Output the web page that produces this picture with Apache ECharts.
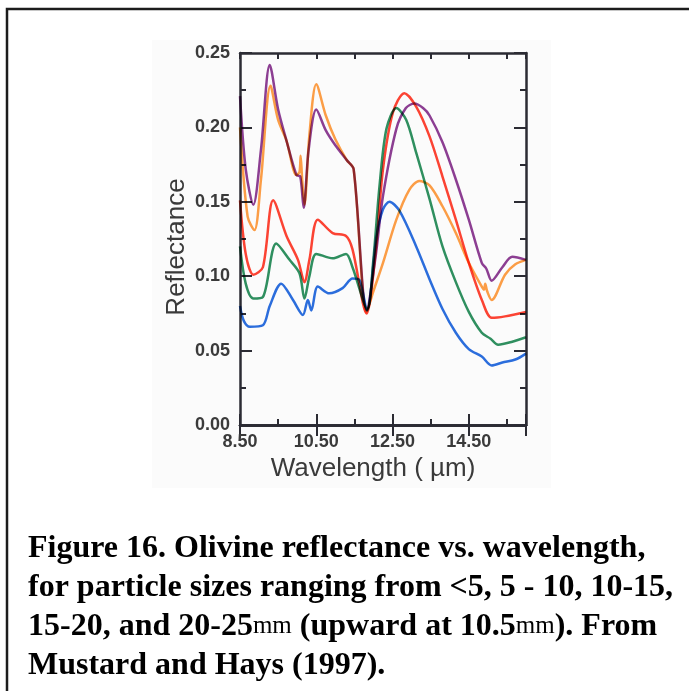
<!DOCTYPE html>
<html>
<head>
<meta charset="utf-8">
<title>Olivine reflectance</title>
<script src="https://cdn.jsdelivr.net/npm/echarts@6/dist/echarts.min.js"></script>
<style>
	html, body { margin: 0; padding: 0; background: #fff; }
	#chart { width: 689px; height: 691px; }
</style>
</head>
<body>
<div id="chart"></div>
<script>
	// 数据 (wavelength in um, reflectance)
	var blueWl = [8.5, 8.6, 8.76, 9.1, 9.28, 9.58, 9.89, 10.15, 10.28, 10.37, 10.54, 10.84, 11.19, 11.45, 11.63, 11.83, 12.08, 12.25, 12.42, 12.68, 13.12, 13.47, 13.81, 14.16, 14.5, 14.84, 15.1, 15.38, 15.72, 16.0];
	var blueR = [0.080, 0.070, 0.066, 0.067, 0.080, 0.095, 0.084, 0.074, 0.084, 0.077, 0.093, 0.0885, 0.092, 0.0985, 0.0975, 0.077, 0.127, 0.145, 0.150, 0.144, 0.120, 0.098, 0.078, 0.062, 0.051, 0.046, 0.040, 0.042, 0.044, 0.048];

	var greenWl = [8.5, 8.65, 8.85, 9.1, 9.45, 9.8, 10.06, 10.19, 10.32, 10.5, 10.93, 11.28, 11.45, 11.84, 11.99, 12.16, 12.34, 12.6, 12.86, 13.12, 13.47, 13.81, 14.16, 14.5, 14.84, 15.07, 15.27, 15.64, 16.0];
	var greenR = [0.120, 0.095, 0.085, 0.086, 0.122, 0.111, 0.102, 0.085, 0.100, 0.115, 0.112, 0.115, 0.106, 0.078, 0.109, 0.161, 0.199, 0.213, 0.205, 0.183, 0.152, 0.120, 0.096, 0.076, 0.062, 0.058, 0.054, 0.056, 0.059];

	var redWl = [8.5, 8.65, 8.85, 9.1, 9.37, 9.72, 10.02, 10.19, 10.32, 10.54, 10.93, 11.28, 11.45, 11.82, 12.05, 12.25, 12.51, 12.81, 13.12, 13.47, 13.81, 14.16, 14.5, 14.85, 15.1, 15.45, 16.0];
	var redR = [0.151, 0.115, 0.101, 0.106, 0.151, 0.127, 0.111, 0.096, 0.111, 0.138, 0.129, 0.127, 0.118, 0.075, 0.115, 0.172, 0.210, 0.223, 0.214, 0.194, 0.167, 0.138, 0.109, 0.0835, 0.072, 0.073, 0.076];

	var orangeWl = [8.5, 8.7, 8.88, 9.05, 9.3, 9.5, 9.72, 9.98, 10.06, 10.09, 10.13, 10.19, 10.32, 10.5, 10.75, 11.0, 11.3, 11.48, 11.82, 12.0, 12.25, 12.6, 12.94, 13.2, 13.47, 13.81, 14.16, 14.5, 14.84, 14.9, 14.93, 14.98, 15.1, 15.45, 15.72, 16.0];
	var orangeR = [0.200, 0.140, 0.131, 0.165, 0.228, 0.205, 0.191, 0.168, 0.170, 0.181, 0.165, 0.148, 0.195, 0.229, 0.208, 0.192, 0.178, 0.172, 0.076, 0.090, 0.109, 0.138, 0.158, 0.164, 0.161, 0.147, 0.129, 0.109, 0.093, 0.091, 0.095, 0.090, 0.084, 0.101, 0.108, 0.111];

	var purpleWl = [8.5, 8.65, 8.85, 9.05, 9.28, 9.5, 9.72, 9.98, 10.08, 10.17, 10.3, 10.5, 10.75, 11.0, 11.3, 11.48, 11.82, 12.05, 12.25, 12.6, 12.85, 13.07, 13.3, 13.47, 13.81, 14.16, 14.5, 14.84, 14.96, 15.1, 15.38, 15.64, 16.0];
	var purpleR = [0.221, 0.172, 0.148, 0.185, 0.242, 0.212, 0.191, 0.168, 0.167, 0.146, 0.185, 0.212, 0.198, 0.188, 0.178, 0.172, 0.077, 0.112, 0.154, 0.199, 0.213, 0.216, 0.213, 0.208, 0.190, 0.165, 0.138, 0.109, 0.105, 0.097, 0.106, 0.113, 0.111];

	var xLabels = [8.5, 10.5, 12.5, 14.5];

	// {mm|..} 用较窄的字体显示
	var captionLines = [
		'Figure 16. Olivine reflectance vs. wavelength,',
		'for particle sizes ranging from <5, 5 - 10, 10-15,',
		'15-20, and 20-25{mm|mm} (upward at 10.5{mm|mm}). From',
		'Mustard and Hays (1997).'
	];

	function zip(xs, ys) {
		var out = [];
		for (var i = 0; i < xs.length; i++) {
			out.push([xs[i], ys[i]]);
		}
		return out;
	}

	var axisColor = '#2b2b33';
	var labelStyle = {
		color: '#3a3a3a',
		fontFamily: 'Liberation Sans',
		fontWeight: 'bold',
		fontSize: 18
	};

	function xAxisCfg(grid, pos, interval, len, withLabel) {
		return {
			type: 'value',
			gridIndex: grid,
			position: pos,
			min: 8.5,
			max: 16,
			interval: interval,
			axisLine: { show: true, lineStyle: { color: axisColor, width: 2.5 } },
			axisTick: { show: true, inside: true, length: len, lineStyle: { color: axisColor, width: 2 } },
			axisLabel: withLabel ? {
				show: true,
				margin: 8,
				color: labelStyle.color,
				fontFamily: labelStyle.fontFamily,
				fontWeight: labelStyle.fontWeight,
				fontSize: labelStyle.fontSize,
				formatter: function (v) {
					return xLabels.indexOf(v) >= 0 ? v.toFixed(2) : '';
				}
			} : { show: false },
			splitLine: { show: false }
		};
	}

	function yAxisCfg(grid, pos, withLabel, visible) {
		return {
			type: 'value',
			gridIndex: grid,
			position: pos,
			show: visible,
			min: 0,
			max: 0.25,
			interval: 0.05,
			axisLine: { show: true, lineStyle: { color: axisColor, width: 2.5 } },
			axisTick: { show: true, inside: true, length: 12, lineStyle: { color: axisColor, width: 2 } },
			minorTick: { show: true, splitNumber: 2, length: 6, lineStyle: { color: axisColor, width: 2 } },
			axisLabel: withLabel ? {
				show: true,
				margin: 10,
				color: labelStyle.color,
				fontFamily: labelStyle.fontFamily,
				fontWeight: labelStyle.fontWeight,
				fontSize: labelStyle.fontSize,
				formatter: function (v) { return v.toFixed(2); }
			} : { show: false },
			splitLine: { show: false },
			minorSplitLine: { show: false }
		};
	}

	function lineSeries(name, color, wl, r) {
		return {
			name: name,
			type: 'line',
			xAxisIndex: 0,
			yAxisIndex: 0,
			data: zip(wl, r),
			smooth: 0.3,
			showSymbol: false,
			blendMode: 'multiply',
			lineStyle: { color: color, width: 2.5 },
			itemStyle: { color: color }
		};
	}

	var gridRect = { left: 240, right: 163, top: 53, bottom: 266 };

	var xMain = xAxisCfg(0, 'bottom', 2, 11, true);
	xMain.name = 'Wavelength ( \u00b5m)';
	xMain.nameLocation = 'middle';
	xMain.nameGap = 30;
	xMain.nameTextStyle = { color: '#3a3a3a', fontFamily: 'Liberation Sans', fontSize: 26, padding: [0, 20, 0, 0] };

	var yMain = yAxisCfg(0, 'left', true, true);
	yMain.name = 'Reflectance';
	yMain.nameLocation = 'middle';
	yMain.nameGap = 50;
	yMain.nameTextStyle = { color: '#3a3a3a', fontFamily: 'Liberation Sans', fontSize: 26, padding: [0, 16, 0, 0] };

	var option = {
		animation: false,
		backgroundColor: '#ffffff',
		grid: [
			{ left: gridRect.left, right: gridRect.right, top: gridRect.top, bottom: gridRect.bottom },
			{ left: gridRect.left, right: gridRect.right, top: gridRect.top, bottom: gridRect.bottom }
		],
		xAxis: [
			xMain,
			xAxisCfg(0, 'top', 2, 11, false),
			xAxisCfg(1, 'bottom', 1, 6, false),
			xAxisCfg(1, 'top', 1, 6, false)
		],
		yAxis: [
			yMain,
			yAxisCfg(0, 'right', false, true),
			yAxisCfg(1, 'left', false, false)
		],
		graphic: [
			{
				type: 'rect',
				z: -10,
				shape: { x: 152, y: 40, width: 399, height: 448 },
				style: { fill: '#fbfbfb' },
				silent: true
			},
			{
				type: 'rect',
				z: 10,
				shape: { x: 7, y: 9, width: 700, height: 700 },
				style: { fill: 'none', stroke: '#1c1c1c', lineWidth: 2.5 },
				silent: true
			},
			{
				type: 'text',
				left: 28,
				top: 529,
				z: 10,
				style: {
					text: captionLines.join('\n'),
					fill: '#000',
					font: 'bold 32px "Liberation Serif"',
					lineHeight: 39,
					rich: {
						mm: {
							fontFamily: 'Liberation Serif',
							fontWeight: 'normal',
							fontSize: 25,
							lineHeight: 39,
							fill: '#000'
						}
					}
				}
			}
		],
		series: [
			lineSeries('<5', '#2b6fe0', blueWl, blueR),
			lineSeries('5-10', '#2f9160', greenWl, greenR),
			lineSeries('10-15', '#ff4433', redWl, redR),
			lineSeries('15-20', '#ffa047', orangeWl, orangeR),
			lineSeries('20-25', '#8e3f94', purpleWl, purpleR)
		]
	};

	var chart = echarts.init(document.getElementById('chart'), null, { renderer: 'canvas' });
	chart.setOption(option);
</script>
</body>
</html>
